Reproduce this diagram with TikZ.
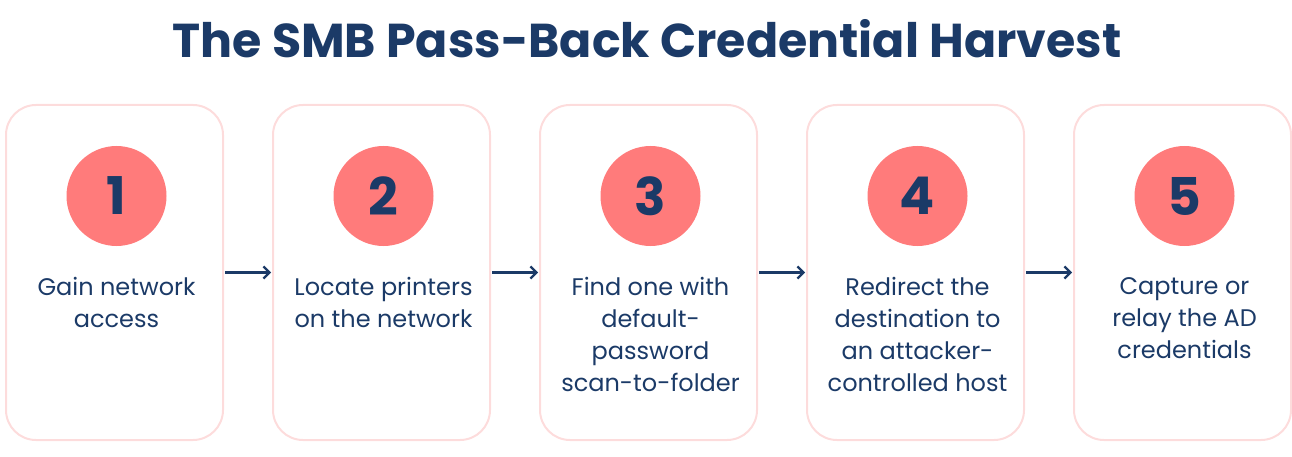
\documentclass[tikz,border=0pt]{standalone}
\usepackage{fontspec}
\setmainfont{Poppins}
\usetikzlibrary{arrows.meta}
\definecolor{navy}{HTML}{1B3A67}
\definecolor{coral}{HTML}{FF7B7B}
\definecolor{boxline}{HTML}{FDDCDC}
\tikzset{
  stepbox/.style={draw=boxline, line width=2pt, rounded corners=30pt, minimum width=217pt, minimum height=335pt, inner sep=0pt},
  numcirc/.style={circle, fill=coral, minimum size=100pt, inner sep=0pt, text=navy, font=\fontsize{52}{52}\selectfont\bfseries},
  steptext/.style={anchor=north, align=center, text=navy, font=\fontsize{24}{32}\selectfont, inner sep=0pt},
  flow/.style={draw=navy, line width=2.2pt, -{Straight Barb[length=6pt,width=12pt,line width=2.2pt]}, shorten <=1pt, shorten >=1pt}
}
\begin{document}
\begin{tikzpicture}[x=1pt,y=1pt]
\useasboundingbox (0,0) rectangle (1292,-457);
\node[text=navy, font=\fontsize{47.5}{47.5}\selectfont\bfseries] (title) at (647,-39) {The SMB Pass-Back Credential Harvest};
\foreach \i/\t in {1/{Gain network\\access},2/{Locate printers\\on the network},3/{Find one with\\default-\\password\\scan-to-folder},4/{Redirect the\\destination to\\an attacker-\\controlled host},5/{Capture or\\relay the AD\\credentials}}{
  \pgfmathsetmacro{\cx}{114.5+267*(\i-1)}
  \node[stepbox] (box\i) at (\cx,-272.5) {};
  \node[numcirc] (num\i) at (\cx+2,-196) {\i};
  \node[steptext] (txt\i) at (\cx+2,-277) {\t};
}
\foreach \a/\b in {1/2,2/3,3/4,4/5}{
  \draw[flow] (box\a.east) -- (box\b.west);
}
\end{tikzpicture}
\end{document}
